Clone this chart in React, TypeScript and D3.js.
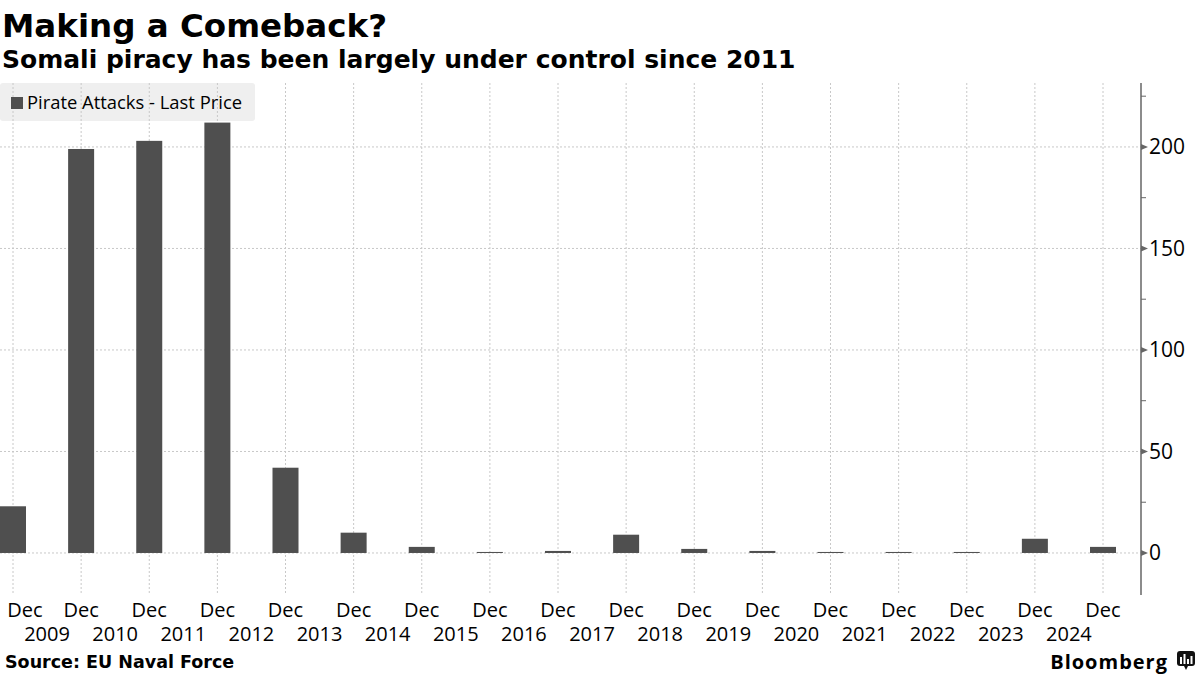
import React from "react";
import * as d3 from "d3";

const periods = ["2008", "2009", "2010", "2011", "2012", "2013", "2014", "2015", "2016", "2017", "2018", "2019", "2020", "2021", "2022", "2023", "2024"];
const attacks = [23, 199, 203, 212, 42, 10, 3, 0.5, 1, 9, 2, 1, 0.5, 0.5, 0.5, 7, 3];
const monthLabels = periods.map(() => "Dec");
const yearLabels = ["2009", "2010", "2011", "2012", "2013", "2014", "2015", "2016", "2017", "2018", "2019", "2020", "2021", "2022", "2023", "2024"];
const yTicks = [0, 50, 100, 150, 200];
const yMinorTicks = [25, 75, 125, 175, 225];

const W = 1200;
const H = 675;
const SANS = "'Open Sans', 'Noto Sans', sans-serif";
const BOLD = "'DejaVu Sans', Verdana, sans-serif";
const BAR = "#4f4f4f";
const GRID = "#c8c8c8";

export default function App() {
  const axisX = 1141;
  const plotTop = 83;
  const plotBottom = 595;
  const x = d3.scalePoint<string>().domain(periods).range([13, 1103]);
  const step = x.step();
  const barW = 26;
  const y = d3.scaleLinear().domain([-20.7, 231.5]).range([plotBottom, plotTop]);

  return (
    <svg width={W} height={H} style={{ position: "absolute", left: 0, top: 0, background: "#fff" }}>
      <text x={2} y={37} fontFamily={BOLD} fontWeight="bold" fontSize={32.5} fill="#000">Making a Comeback?</text>
      <text x={2} y={68} fontFamily={BOLD} fontWeight="bold" fontSize={25} fill="#000">Somali piracy has been largely under control since 2011</text>

      {/* legend background */}
      <rect x={0} y={83} width={255} height={38} rx={3} fill="#efefef" />

      {/* gridlines */}
      {periods.map((p) => (
        <line key={"v" + p} x1={x(p)} x2={x(p)} y1={plotTop} y2={plotBottom} stroke={GRID} strokeWidth={1} strokeDasharray="2,2" />
      ))}
      {yTicks.map((t) => (
        <line key={"h" + t} x1={0} x2={axisX} y1={y(t)} y2={y(t)} stroke={GRID} strokeWidth={1} strokeDasharray="2,2" />
      ))}

      {/* legend content */}
      <rect x={11} y={97} width={12} height={12} fill={BAR} />
      <text x={27} y={109} fontFamily={SANS} fontSize={18.4} fill="#000">Pirate Attacks - Last Price</text>

      {/* bars */}
      {periods.map((p, i) => {
        const top = y(attacks[i]);
        const base = y(0);
        return <rect key={"b" + p} x={(x(p) as number) - barW / 2} y={top} width={barW} height={base - top} fill={BAR} />;
      })}

      {/* y axis */}
      <line x1={axisX} x2={axisX} y1={plotTop} y2={plotBottom} stroke="#666" strokeWidth={1.5} />
      {yMinorTicks.map((t) => (
        <line key={"m" + t} x1={axisX} x2={axisX + 5} y1={y(t)} y2={y(t)} stroke="#666" strokeWidth={1} />
      ))}
      {yTicks.map((t) => (
        <g key={"t" + t}>
          <path d={`M${axisX},${y(t) - 3}L${axisX + 7},${y(t)}L${axisX},${y(t) + 3}Z`} fill="#666" />
          <text x={1149} y={y(t)} dy="0.35em" fontFamily={SANS} fontSize={21} fill="#000">{t}</text>
        </g>
      ))}

      {/* x labels */}
      {periods.map((p, i) => {
        const cx = x(p) as number;
        const lx = Math.max(cx, 25);
        return (
          <text key={"d" + p} x={lx} y={617} textAnchor="middle" fontFamily={SANS} fontSize={20} fill="#000">{monthLabels[i]}</text>
        );
      })}
      {yearLabels.map((yl, i) => (
        <text key={"y" + yl} x={(x(periods[i]) as number) + step / 2} y={641} textAnchor="middle" fontFamily={SANS} fontSize={20} fill="#000">{yl}</text>
      ))}

      {/* footer */}
      <text x={5} y={668} fontFamily={BOLD} fontWeight="bold" fontSize={17.5} fill="#000">Source: EU Naval Force</text>
      <text x={1168} y={669} textAnchor="end" fontFamily={SANS} fontWeight="bold" fontSize={20} fill="#000" letterSpacing="1">Bloomberg</text>
      <g>
        <rect x={1177} y={651} width={18} height={15} rx={3} fill="#111" />
        <path d="M1184,666L1186,670L1188,666Z" fill="#111" />
        {[0, 1, 2, 3].map((k) => (
          <rect key={"ic" + k} x={1180 + k * 3.5} y={[657, 654, 659, 656][k]} width={2} height={[7, 10, 5, 8][k]} fill="#fff" />
        ))}
      </g>
    </svg>
  );
}
